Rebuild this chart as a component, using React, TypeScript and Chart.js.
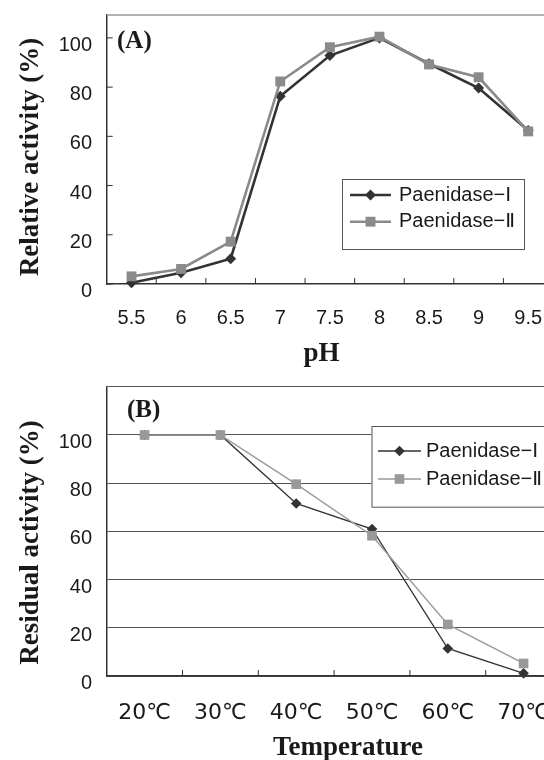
import React, { useEffect, useRef } from 'react';
import { Chart, registerables } from 'chart.js';

Chart.register(...registerables);

// ---------- data ----------
const phLabels = ['5.5', '6', '6.5', '7', '7.5', '8', '8.5', '9', '9.5'];
const phSeriesI = [0.5, 4.6, 10.3, 76.3, 92.8, 100, 89.5, 79.6, 62.4];
const phSeriesII = [3.1, 6.1, 17.2, 82.3, 96.2, 100.5, 89.2, 84, 62];

const tempLabels = ['20℃', '30℃', '40℃', '50℃', '60℃', '70℃'];
const tempSeriesI = [100, 100, 71.6, 61, 11.4, 1.1];
const tempSeriesII = [100, 100, 79.6, 58.2, 21.4, 5.2];

const seriesNames = ['Paenidase−Ⅰ', 'Paenidase−Ⅱ'];

const DARK = '#333333';
const GRAY = '#8a8a8a';
const TEXT = '#1a1a1a';

// ---------- helpers ----------
function drawMarker(ctx: CanvasRenderingContext2D, style: string, x: number, y: number, r: number, color: string) {
  ctx.save();
  ctx.fillStyle = color;
  ctx.beginPath();
  if (style === 'rectRot') {
    ctx.moveTo(x, y - r);
    ctx.lineTo(x + r, y);
    ctx.lineTo(x, y + r);
    ctx.lineTo(x - r, y);
    ctx.closePath();
  } else {
    const s = r * Math.SQRT1_2;
    ctx.rect(x - s, y - s, 2 * s, 2 * s);
  }
  ctx.fill();
  ctx.restore();
}

function seg(ctx: CanvasRenderingContext2D, x0: number, y0: number, x1: number, y1: number) {
  ctx.beginPath();
  ctx.moveTo(x0, y0);
  ctx.lineTo(x1, y1);
  ctx.stroke();
}

const decor = {
  id: 'decor',
  beforeDatasetsDraw(chart: any, _a: any, o: any) {
    const ctx = chart.ctx as CanvasRenderingContext2D;
    const { left, right, top, bottom } = chart.chartArea;
    ctx.save();
    if (o.topBorder) {
      ctx.strokeStyle = o.topBorder.color;
      ctx.lineWidth = o.topBorder.width;
      seg(ctx, left, top, right + 20, top);
    }
    ctx.strokeStyle = o.tickColor;
    ctx.lineWidth = o.tickWidth;
    const xs = chart.scales.x;
    const n = xs.ticks.length;
    for (let i = 1; i < n; i++) {
      const px = (xs.getPixelForTick(i - 1) + xs.getPixelForTick(i)) / 2;
      seg(ctx, px, bottom, px, bottom - o.xTickLen);
    }
    if (o.yTickLen) {
      const ys = chart.scales.y;
      ys.ticks.forEach((t: any) => {
        const py = ys.getPixelForValue(t.value);
        seg(ctx, left, py, left + o.yTickLen, py);
      });
    }
    ctx.restore();
  },
  afterDatasetsDraw(chart: any, _a: any, o: any) {
    const L = o.legend;
    if (!L) return;
    const ctx = chart.ctx as CanvasRenderingContext2D;
    ctx.save();
    ctx.fillStyle = '#ffffff';
    ctx.fillRect(L.left, L.top, L.right - L.left, L.bottom - L.top);
    ctx.strokeStyle = L.borderColor;
    ctx.lineWidth = 1;
    ctx.strokeRect(L.left + 0.5, L.top + 0.5, L.right - L.left, L.bottom - L.top);
    const items = chart.data.datasets.map((ds: any, i: number) => ({ ds, i }));
    items.sort((a: any, b: any) => a.ds.legendIndex - b.ds.legendIndex);
    items.forEach(({ ds }: any, k: number) => {
      const y = L.rowTop + k * L.rowGap;
      ctx.strokeStyle = ds.borderColor;
      ctx.lineWidth = ds.borderWidth;
      seg(ctx, L.lineX0, y, L.lineX1, y);
      drawMarker(ctx, ds.pointStyle, (L.lineX0 + L.lineX1) / 2, y, ds.pointRadius, ds.pointBackgroundColor);
      ctx.fillStyle = TEXT;
      ctx.font = L.font;
      ctx.textAlign = 'left';
      ctx.textBaseline = 'middle';
      ctx.fillText(ds.label, L.textX, y + L.textDy);
    });
    ctx.restore();
  },
  afterDraw(chart: any, _a: any, o: any) {
    const ctx = chart.ctx as CanvasRenderingContext2D;
    ctx.save();
    ctx.fillStyle = TEXT;
    ctx.textBaseline = 'middle';
    if (o.panel) {
      ctx.font = o.panel.font;
      ctx.textAlign = 'left';
      ctx.fillText(o.panel.text, o.panel.x, o.panel.y);
    }
    if (o.xTitle) {
      ctx.font = o.xTitle.font;
      ctx.textAlign = 'center';
      ctx.fillText(o.xTitle.text, o.xTitle.x, o.xTitle.y);
    }
    if (o.yTitle) {
      ctx.save();
      ctx.translate(o.yTitle.x, o.yTitle.y);
      ctx.rotate(-Math.PI / 2);
      ctx.font = o.yTitle.font;
      ctx.textAlign = 'center';
      ctx.fillText(o.yTitle.text, 0, 0);
      ctx.restore();
    }
    ctx.restore();
  },
};

const TITLE_FONT = 'bold 27px "Liberation Serif", "Times New Roman", serif';
const PANEL_FONT = 'bold 25px "Liberation Serif", "Times New Roman", serif';
const LEGEND_FONT_A = '20px "Liberation Sans", "DejaVu Sans", sans-serif';
const LEGEND_FONT_B = '20px "Liberation Sans", "DejaVu Sans", sans-serif';

function lineDataset(label: string, data: number[], color: string, width: number, style: string, radius: number, order: number, legendIndex: number) {
  return {
    label,
    data,
    borderColor: color,
    backgroundColor: color,
    pointBackgroundColor: color,
    pointBorderColor: color,
    pointBorderWidth: 0,
    borderWidth: width,
    pointStyle: style,
    pointRadius: radius,
    pointHoverRadius: radius,
    tension: 0,
    fill: false,
    clip: false,
    order,
    legendIndex,
  };
}

function fixY(width: number) {
  return (s: any) => {
    s.width = width;
    s.paddingTop = 0;
    s.paddingBottom = 0;
  };
}
function fixX(height: number) {
  return (s: any) => {
    s.height = height;
    s.paddingLeft = 0;
    s.paddingRight = 0;
  };
}

function configA(): any {
  return {
    type: 'line',
    data: {
      labels: phLabels,
      datasets: [
        lineDataset(seriesNames[0], phSeriesI, DARK, 2.6, 'rectRot', 5.5, 2, 0),
        lineDataset(seriesNames[1], phSeriesII, GRAY, 2.6, 'rect', 7, 1, 1),
      ],
    },
    options: {
      responsive: false,
      animation: false,
      events: [],
      layout: { padding: { top: 15, right: 7, left: 0, bottom: 0 } },
      scales: {
        x: {
          type: 'category',
          offset: true,
          grid: { display: false, drawTicks: false },
          border: { display: true, color: DARK, width: 1.5 },
          ticks: { padding: 22, color: TEXT, font: { family: '"Liberation Sans", Arial, sans-serif', size: 20 }, maxRotation: 0, autoSkip: false },
          afterFit: fixX(96),
        },
        y: {
          min: 0,
          max: 109.3,
          grid: { display: false, drawTicks: false },
          border: { display: true, color: DARK, width: 1.5 },
          ticks: { stepSize: 20, includeBounds: false, padding: 14.7, labelOffset: 7.5, color: TEXT, font: { family: '"Liberation Sans", Arial, sans-serif', size: 20 } },
          afterFit: fixY(106.7),
        },
      },
      plugins: {
        legend: { display: false },
        tooltip: { enabled: false },
        decor: {
          topBorder: { color: '#999999', width: 1.5 },
          tickColor: DARK,
          tickWidth: 1,
          xTickLen: 6,
          yTickLen: 6,
          panel: { text: '(A)', x: 117, y: 42, font: PANEL_FONT },
          xTitle: { text: 'pH', x: 321.5, y: 354, font: TITLE_FONT },
          yTitle: { text: 'Relative activity (%)', x: 31, y: 157, font: TITLE_FONT },
          legend: {
            left: 342, top: 179, right: 524, bottom: 249,
            borderColor: '#555555',
            rowTop: 195, rowGap: 26.7,
            lineX0: 350, lineX1: 391, textX: 399, textDy: 0,
            font: LEGEND_FONT_A,
          },
        },
      },
    },
    plugins: [decor],
  };
}

function configB(): any {
  return {
    type: 'line',
    data: {
      labels: tempLabels,
      datasets: [
        lineDataset(seriesNames[0], tempSeriesI, DARK, 1.4, 'rectRot', 5.3, 2, 0),
        lineDataset(seriesNames[1], tempSeriesII, '#999999', 1.4, 'rect', 6.8, 1, 1),
      ],
    },
    options: {
      responsive: false,
      animation: false,
      events: [],
      layout: { padding: { top: 5, right: 8.5, left: 0, bottom: 0 } },
      scales: {
        x: {
          type: 'category',
          offset: true,
          grid: { display: false, drawTicks: false },
          border: { display: true, color: DARK, width: 1.5 },
          ticks: { padding: 24, color: TEXT, font: { family: '"DejaVu Sans", sans-serif', size: 22 }, maxRotation: 0, autoSkip: false },
          afterFit: fixX(84),
        },
        y: {
          min: 0,
          max: 120,
          grid: { display: true, drawTicks: false, color: '#555555', lineWidth: 1 },
          border: { display: true, color: DARK, width: 1.5 },
          ticks: {
            stepSize: 20,
            padding: 14.7,
            labelOffset: 7.5,
            color: TEXT,
            font: { family: '"Liberation Sans", Arial, sans-serif', size: 20 },
            callback: (v: any) => (v > 100 ? '' : String(v)),
          },
          afterFit: fixY(106.7),
        },
      },
      plugins: {
        legend: { display: false },
        tooltip: { enabled: false },
        decor: {
          tickColor: DARK,
          tickWidth: 1,
          xTickLen: 6,
          yTickLen: 0,
          panel: { text: '(B)', x: 127, y: 31, font: PANEL_FONT },
          xTitle: { text: 'Temperature', x: 348, y: 368, font: TITLE_FONT },
          yTitle: { text: 'Residual activity (%)', x: 31, y: 162.5, font: TITLE_FONT },
          legend: {
            left: 371.5, top: 46, right: 600, bottom: 126.7,
            borderColor: '#555555',
            rowTop: 71, rowGap: 28,
            lineX0: 378, lineX1: 421, textX: 426, textDy: 0,
            font: LEGEND_FONT_B,
          },
        },
      },
    },
    plugins: [decor],
  };
}

function PanelChart({ makeConfig, width, height }: { makeConfig: () => any; width: number; height: number }) {
  const ref = useRef<HTMLCanvasElement | null>(null);
  useEffect(() => {
    if (!ref.current) return;
    const chart = new Chart(ref.current, makeConfig());
    return () => chart.destroy();
  }, []);
  return <canvas ref={ref} width={width} height={height} style={{ display: 'block', width, height }} />;
}

export default function App() {
  return (
    <div style={{ position: 'fixed', left: 0, top: 0, width: 544, height: 760, overflow: 'hidden', background: '#ffffff' }}>
      <div style={{ position: 'absolute', left: 0, top: 0 }}>
        <PanelChart makeConfig={configA} width={560} height={380} />
      </div>
      <div style={{ position: 'absolute', left: 0, top: 380 }}>
        <PanelChart makeConfig={configB} width={570} height={380} />
      </div>
    </div>
  );
}
